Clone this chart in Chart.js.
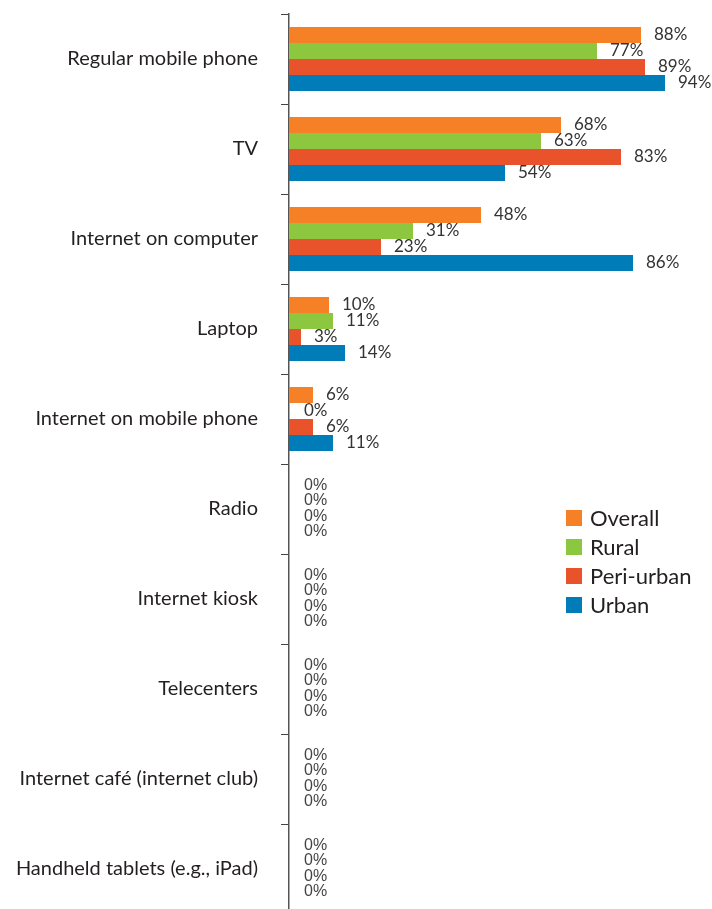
<!DOCTYPE html>
<html>
<head>
<meta charset="utf-8">
<script src="https://cdn.jsdelivr.net/npm/chart.js@4.4.1/dist/chart.umd.min.js"></script>
<style>
html,body{margin:0;padding:0;background:#fff;overflow:hidden;}
canvas{display:block;}
</style>
</head>
<body>
<canvas id="c" width="712" height="920" style="width:712px;height:920px"></canvas>
<script>
const categories = ["Regular mobile phone","TV","Internet on computer","Laptop","Internet on mobile phone","Radio","Internet kiosk","Telecenters","Internet café (internet club)","Handheld tablets (e.g., iPad)"];
const seriesNames = ["Overall","Rural","Peri-urban","Urban"];
const overall   = [88,68,48,10,6,0,0,0,0,0];
const rural     = [77,63,31,11,0,0,0,0,0,0];
const periUrban = [89,83,23,3,6,0,0,0,0,0];
const urban     = [94,54,86,14,11,0,0,0,0,0];
const colors = ["#F58026","#8DC63F","#E9532C","#007DB8"];

const allValues = [overall, rural, periUrban, urban];

const labelPlugin = {
  id: 'valLabels',
  afterDatasetsDraw(chart) {
    const ctx = chart.ctx;
    ctx.save();
    ctx.textBaseline = 'middle';
    ctx.textAlign = 'left';
    chart.data.datasets.forEach((ds, di) => {
      const meta = chart.getDatasetMeta(di);
      meta.data.forEach((bar, i) => {
        const v = ds.data[i];
        const allZero = allValues.every(a => a[i] === 0);
        ctx.fillStyle = allZero ? '#444' : '#333';
        ctx.font = allZero ? '16px "Liberation Sans", Arial, sans-serif' : '17px Lato, sans-serif';
        const off = v === 0 ? 15 : 13;
        ctx.fillText(v + '%', bar.x + off, allZero ? bar.y + 0.5 - di * 0.5 : bar.y);
      });
    });
    ctx.restore();
  }
};

const legendPlugin = {
  id: 'customLegend',
  afterDraw(chart) {
    const ctx = chart.ctx;
    ctx.save();
    ctx.textBaseline = 'middle';
    ctx.textAlign = 'left';
    ctx.font = '22px Lato, sans-serif';
    seriesNames.forEach((n, i) => {
      const y = 518 + i * 29;
      ctx.fillStyle = colors[i];
      ctx.fillRect(566, y - 8, 16, 16);
      ctx.fillStyle = '#231f20';
      ctx.fillText(n, 590, y + 1);
    });
    ctx.restore();
  }
};

new Chart(document.getElementById('c'), {
  type: 'bar',
  data: {
    labels: categories,
    datasets: seriesNames.map((n, i) => ({
      label: n,
      data: allValues[i],
      backgroundColor: colors[i],
      borderWidth: 0,
      barPercentage: 1,
      categoryPercentage: 64/90
    }))
  },
  options: {
    indexAxis: 'y',
    responsive: false,
    maintainAspectRatio: false,
    animation: false,
    devicePixelRatio: 1,
    layout: { padding: { top: 14, bottom: 6, right: 23, left: 0 } },
    plugins: { legend: { display: false }, tooltip: { enabled: false } },
    scales: {
      x: { display: false, min: 0, max: 100 },
      y: {
        afterFit(scale) { scale.width = 289; scale.paddingTop = 0; scale.paddingBottom = 0; },
        border: { display: true, color: '#555', width: 1.5 },
        grid: { offset: true, drawOnChartArea: false, drawTicks: true, tickLength: 8, color: '#444', lineWidth: 1 },
        ticks: { padding: 23, color: '#231f20', font: { family: 'Lato, sans-serif', size: 20 } }
      }
    }
  },
  plugins: [labelPlugin, legendPlugin]
});
</script>
</body>
</html>
